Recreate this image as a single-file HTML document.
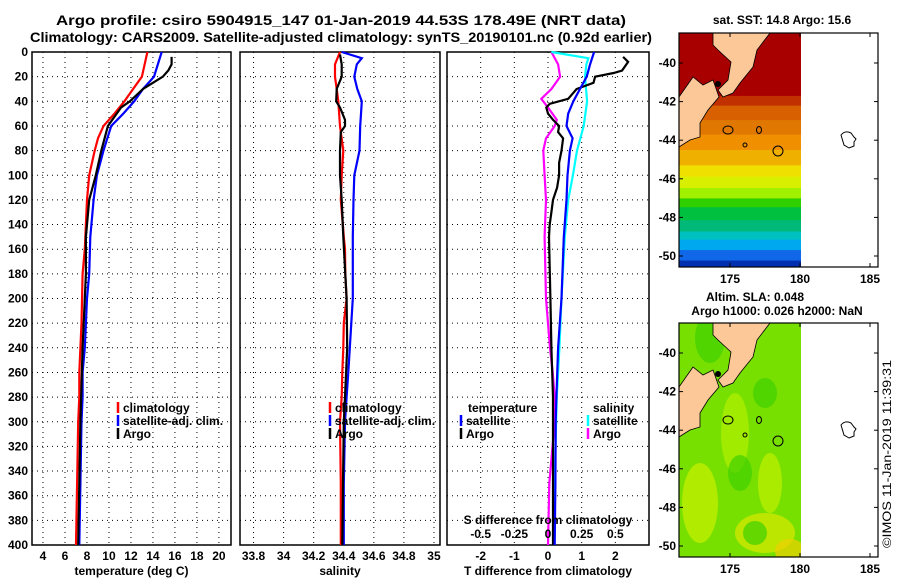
<!DOCTYPE html>
<html><head><meta charset="utf-8"><style>
html,body{margin:0;padding:0;background:#fff;}
svg{display:block;font-family:"Liberation Sans",sans-serif;font-weight:bold;}
</style></head><body>
<svg id="fig" width="900" height="580" viewBox="0 0 900 580" xmlns="http://www.w3.org/2000/svg">
<defs>
<clipPath id="clipSst"><rect x="679" y="33" width="122" height="234"/></clipPath>
<clipPath id="clipSla"><rect x="679" y="323" width="122" height="234"/></clipPath>
</defs>
<rect width="900" height="580" fill="#fff"/>
<text x="341" y="25" font-size="13.5" text-anchor="middle" textLength="570" lengthAdjust="spacingAndGlyphs">Argo profile: csiro 5904915_147 01-Jan-2019 44.53S 178.49E (NRT data)</text>
<text x="341" y="42" font-size="13.5" text-anchor="middle" textLength="622" lengthAdjust="spacingAndGlyphs">Climatology: CARS2009. Satellite-adjusted climatology: synTS_20190101.nc (0.92d earlier)</text>
<g id="plots"></g>
<g id="maps"></g>
<text transform="translate(891,454) rotate(-90)" font-size="12" font-weight="normal" text-anchor="middle" textLength="188" lengthAdjust="spacingAndGlyphs">©IMOS 11-Jan-2019 11:39:31</text>
</svg>
<script>
// ---- data ----
const depthTicks=[0,20,40,60,80,100,120,140,160,180,200,220,240,260,280,300,320,340,360,380,400];
const tempTicks=[4,6,8,10,12,14,16,18,20];
const salTicks=[33.8,34,34.2,34.4,34.6,34.8,35];
const tdiffTicks=[-2,-1,0,1,2];
const sdiffTicks=[-0.5,-0.25,0,0.25,0.5];
const sdiffTickLabels=["-0.5","-0.25","0","0.25","0.5"];

const climTdepth=[0,20,30,40,50,60,70,80,100,120,140,160,180,220,260,280,300,350,400];
const climT=[13.5,13.0,12.2,11.4,10.5,9.5,9.0,8.7,8.2,8.0,7.9,7.8,7.6,7.5,7.3,7.3,7.2,7.1,7.0];
const satTdepth=[0,20,30,40,50,60,80,100,120,150,180,200,220,240,260,280,300,350,400];
const satT=[14.8,14.1,13.1,12.3,11.3,10.2,9.5,8.9,8.6,8.3,8.2,8.0,7.9,7.8,7.6,7.6,7.5,7.4,7.3];
const argoTdepth=[4,10,15,20,25,30,40,45,50,60,80,100,120,150,180,200,240,300,350,400];
const argoT=[15.7,15.7,15.4,14.9,14.0,13.1,11.9,11.1,10.7,9.9,9.3,8.8,8.2,7.9,7.9,7.8,7.6,7.4,7.3,7.2];

const climSdepth=[0,10,20,30,40,60,80,100,120,150,160,180,200,220,240,260,280,300,350,400];
const climS=[34.375,34.342,34.342,34.353,34.364,34.375,34.397,34.386,34.38,34.40,34.408,34.41,34.419,34.40,34.397,34.39,34.386,34.375,34.38,34.38];
const satSdepth=[0,5,10,20,30,40,60,80,100,120,150,200,220,240,260,280,300,350,400];
const satS=[34.386,34.52,34.487,34.47,34.49,34.52,34.509,34.505,34.47,34.465,34.46,34.46,34.45,34.44,34.43,34.419,34.408,34.40,34.40];
const argoSdepth=[2,10,20,30,40,45,55,60,65,80,100,120,150,200,240,280,300,350,400];
const argoS=[34.375,34.386,34.386,34.353,34.35,34.375,34.408,34.408,34.38,34.375,34.375,34.386,34.397,34.419,34.423,34.408,34.40,34.395,34.39];

const dTsatDepth=[0,10,20,30,40,50,60,70,80,100,120,150,200,240,280,300,350,400];
const dTsat=[1.37,1.25,1.15,0.95,0.75,0.6,0.55,0.73,0.65,0.58,0.55,0.47,0.4,0.3,0.25,0.23,0.22,0.2];
const dTargoDepth=[4,8,15,17,20,25,30,38,42,45,50,55,60,65,70,80,90,100,110,120,130,140,150,200,240,280,300,350,400];
const dTargo=[2.23,2.38,2.2,1.95,1.4,1.35,0.85,0.6,0.05,-0.05,0,0.15,0.33,0.3,0.45,0.4,0.33,0.33,0.27,0.15,0.1,0.05,0.03,0.07,0.1,0.15,0.15,0.15,0.15];
const dSsatDepth=[0,5,10,20,40,60,80,100,120,150,200,240,280,300,350,400];
const dSsat=[0.025,0.3,0.285,0.275,0.29,0.265,0.215,0.185,0.15,0.125,0.1,0.085,0.065,0.06,0.05,0.04];
const dSargoDepth=[0,10,20,30,38,45,55,60,70,80,100,120,150,200,240,260,280,300,350,400];
const dSargo=[0.025,0.075,0.09,0.025,-0.05,0,0.065,0.05,-0.015,-0.035,-0.025,-0.015,-0.025,-0.015,0.015,0.035,0.05,0.05,0.01,0.0];

const latTicks=[-40,-42,-44,-46,-48,-50];
const lonTicks=[175,180,185];

// ---- helpers ----
const NS="http://www.w3.org/2000/svg";
function mk(tag,attrs,parent){const e=document.createElementNS(NS,tag);for(const k in attrs)e.setAttribute(k,attrs[k]);parent.appendChild(e);return e;}
const plots=document.getElementById('plots');
const Y0=52,Y1=545;
const yS=d=>Y0+(d/400)*(Y1-Y0);
function lin(d0,d1,r0,r1){return v=>r0+(v-d0)/(d1-d0)*(r1-r0);}

function panel(name,x0,x1,xs,ticks,labels,xlabel,showY){
  const g=mk('g',{},plots);
  
  
  depthTicks.forEach(d=>{
    if(d>0&&d<400){const l=mk('line',{x1:x0,x2:x1,y1:yS(d),y2:yS(d),stroke:'#000','stroke-width':1,'stroke-dasharray':'1 4'},g);
    }
  });
  ticks.forEach((t,i)=>{
    const x=xs(t);
    const l=mk('line',{x1:x,x2:x,y1:Y0,y2:Y1,stroke:'#000','stroke-width':1,'stroke-dasharray':'1 4'},g);
    
    const tx=mk('text',{x:x,y:Y1+15,'font-size':12,'text-anchor':'middle'},g);
    tx.textContent=labels[i];
    
  });
  const xl=mk('text',{x:(x0+x1)/2,y:Y1+30,'font-size':12,'text-anchor':'middle'},g);
  xl.textContent=xlabel;
  
  if(showY){depthTicks.forEach(d=>{
    const t=mk('text',{x:x0-4,y:yS(d)+4,'font-size':12,'text-anchor':'end'},g);
    t.textContent=d;
    
  });}
  const fr=mk('rect',{x:x0,y:Y0,width:x1-x0,height:Y1-Y0,fill:'none',stroke:'#000','stroke-width':1.5},g);
  
  return g;
}
function series(g,name,depths,vals,xs,color){
  const pts=depths.map((d,i)=>xs(vals[i]).toFixed(1)+','+yS(d).toFixed(1)).join(' ');
  const p=mk('polyline',{points:pts,fill:'none',stroke:color,'stroke-width':2.2},g);
  
  
}
function legend(g,x,y,color,label){
  if(color){const l=mk('line',{x1:x,x2:x,y1:y-10,y2:y+1,stroke:color,'stroke-width':2.5},g);
  }
  const t=mk('text',{x:x+5,y:y,'font-size':12},g);
  t.textContent=label;
  
}

// panel 1 temperature
const xT=lin(3,21.1,32,231);
const p1=panel('temperature-panel',32,231,xT,tempTicks,tempTicks.map(String),'temperature (deg C)',true);
series(p1,'climatology-temperature-line',climTdepth,climT,xT,'#f00');
series(p1,'satellite-temperature-line',satTdepth,satT,xT,'#00f');
series(p1,'argo-temperature-line',argoTdepth,argoT,xT,'#000');
legend(p1,118,412,'#f00','climatology');
legend(p1,118,425,'#00f','satellite-adj. clim.');
legend(p1,118,438,'#000','Argo');

// panel 2 salinity
const xS=lin(33.71,35.04,240,440);
const p2=panel('salinity-panel',240,440,xS,salTicks,salTicks.map(String),'salinity',false);
series(p2,'climatology-salinity-line',climSdepth,climS,xS,'#f00');
series(p2,'satellite-salinity-line',satSdepth,satS,xS,'#00f');
series(p2,'argo-salinity-line',argoSdepth,argoS,xS,'#000');
legend(p2,330,412,'#f00','climatology');
legend(p2,330,425,'#00f','satellite-adj. clim.');
legend(p2,330,438,'#000','Argo');

// panel 3 differences
const xD=lin(-3,3,447,649);
const xDS=lin(-0.75,0.75,447,649);
const p3=panel('difference-panel',447,649,xD,tdiffTicks,tdiffTicks.map(String),'T difference from climatology',false);
series(p3,'salinity-argo-diff-line',dSargoDepth,dSargo,xDS,'#f0f');
series(p3,'salinity-satellite-diff-line',dSsatDepth,dSsat,xDS,'#0ff');
series(p3,'temperature-argo-diff-line',dTargoDepth,dTargo,xD,'#000');
series(p3,'temperature-satellite-diff-line',dTsatDepth,dTsat,xD,'#00f');
legend(p3,463,412,null,'temperature');
legend(p3,461,425,'#00f','satellite');
legend(p3,461,438,'#000','Argo');
legend(p3,588,412,null,'salinity');
legend(p3,588,425,'#0ff','satellite');
legend(p3,588,438,'#f0f','Argo');
{const t=mk('text',{x:548,y:524,'font-size':12,'text-anchor':'middle'},p3);t.textContent='S difference from climatology';

sdiffTicks.forEach((v,i)=>{const tt=mk('text',{x:xDS(v),y:538,'font-size':12,'text-anchor':'middle'},p3);tt.textContent=sdiffTickLabels[i];
});}

// ---- maps ----
const maps=document.getElementById('maps');
const lonX=lin(175,180,730,800);
function map(name,top,kind,titles,clipId){
  const g=mk('g',{},maps);
  
  
  const latY=lat=>top+30+(-40-lat)*19.3;
  const x0=679,x1=878,bot=top+234,dx=801;
  titles.forEach((tt,i)=>{const t=mk('text',{x:tt[1],y:tt[2],'font-size':12,'text-anchor':'middle'},g);t.textContent=tt[0];
  });
  const fld=mk('g',{'clip-path':'url(#'+clipId+')'},g);
  if(kind==='sst'){
    const bands=[[0,'#a80000'],[78,'#c03000'],[90,'#d86000'],[108,'#e07800'],[126,'#f09000'],[145,'#f0b000'],[164,'#f0e000'],[178,'#d8f000'],[192,'#a0f000'],[205,'#30d000'],[216,'#00c040'],[232,'#00b878'],[246,'#00c0c0'],[256,'#00a8f0'],[269,'#1068e8'],[282,'#0030b0']];
    bands.forEach((b,i)=>{const h=(i<bands.length-1?bands[i+1][0]:290)-b[0];
      const yy=top+b[0]*234/290;
      const r=mk('rect',{x:x0,y:yy,width:dx-x0,height:h*234/290+0.5,fill:b[1]},fld);
      });
  } else {
    const r=mk('rect',{x:x0,y:top,width:dx-x0,height:234,fill:'#78e000'},fld);
    
    [[700,top+180,18,40,'#c8f000'],[765,top+210,30,20,'#d8e800'],[790,top+228,15,12,'#f0d000'],[735,top+110,14,40,'#b0f000'],[770,top+160,12,30,'#c0f000'],[710,top+15,15,25,'#40d000'],[740,top+150,12,18,'#40d000'],[755,top+210,12,12,'#40d000'],[765,top+70,12,15,'#40d000']].forEach(e=>{
      const el=mk('ellipse',{cx:e[0],cy:e[1],rx:e[2],ry:e[3],fill:e[4],opacity:0.7},fld);
      });
  }
  const o=top-33;
  const landA=`713,${33+o} 770,${33+o} 757,${50+o} 753,${67+o} 740,${83+o} 733,${93+o} 723,${97+o} 718,${90+o} 728,${80+o} 731,${62+o} 718,${50+o} 713,${45+o}`;
  const landB=`679,${97+o} 693,${77+o} 703,${85+o} 713,${80+o} 719,${97+o} 708,${110+o} 700,${123+o} 700,${137+o} 690,${140+o} 679,${147+o}`;
  [landA,landB].forEach(pts=>{const l=mk('polygon',{points:pts,fill:'#fcc898',stroke:'#000','stroke-width':0.8},g);
    });
  [[728,130+o,5,4],[759,130+o,2.5,3.5],[745,145+o,2,2],[778,151+o,5,5]].forEach(c=>{
    const e=mk('ellipse',{cx:c[0],cy:c[1],rx:c[2],ry:c[3],fill:'none',stroke:'#000','stroke-width':1},g);
    });
  const isl=mk('path',{d:`M841,${135+o} q4,-5 10,-2 l3,4 l2,2 l-2,3 l0,4 l-5,2 l-5,-3 z`,fill:'none',stroke:'#000','stroke-width':1},g);
  
  const dot=mk('circle',{cx:718,cy:84+o,r:3,fill:'#000'},g);
  
  const fr=mk('rect',{x:x0,y:top,width:x1-x0,height:234,fill:'none',stroke:'#000','stroke-width':1.2},g);
  
  latTicks.forEach(lat=>{const y=latY(lat);
    mk('line',{x1:x0,x2:x0+4,y1:y,y2:y,stroke:'#000'},g);mk('line',{x1:x1-4,x2:x1,y1:y,y2:y,stroke:'#000'},g);
    const t=mk('text',{x:x0-3,y:y+4,'font-size':12,'text-anchor':'end'},g);t.textContent=lat;
    });
  lonTicks.forEach(lon=>{const x=lonX(lon);
    mk('line',{x1:x,x2:x,y1:top,y2:top+4,stroke:'#000'},g);mk('line',{x1:x,x2:x,y1:bot-4,y2:bot,stroke:'#000'},g);
    const t=mk('text',{x:x,y:bot+16,'font-size':12,'text-anchor':'middle'},g);t.textContent=lon;
    });
}
map('sst-map',33,'sst',[['sat. SST: 14.8 Argo: 15.6',782,24]],'clipSst');
map('sla-map',323,'sla',[['Altim. SLA: 0.048',755,301],['Argo h1000: 0.026 h2000: NaN',777,315]],'clipSla');
</script>
</body></html>
